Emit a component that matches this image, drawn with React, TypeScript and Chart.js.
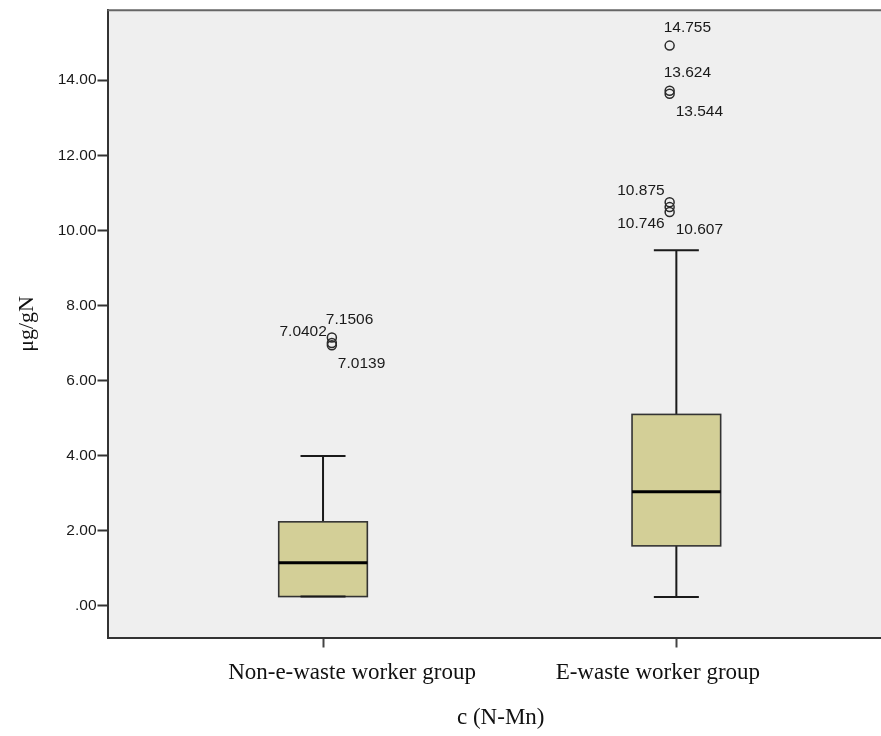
import React, { useEffect, useRef } from "react";
import { Chart, registerables } from "chart.js";

Chart.register(...registerables);

// ---- data ----
const categories = ["Non-e-waste worker group", "E-waste worker group"];
const whiskerLow = [0.25, 0.24];
const q1 = [0.25, 1.6];
const median = [1.15, 3.04];
const q3 = [2.24, 5.1];
const whiskerHigh = [3.99, 9.47];

const outlierGroup = [0, 0, 0, 1, 1, 1, 1, 1, 1];
const outlierJitter = [0.025, 0.025, 0.025, -0.019, -0.019, -0.019, -0.019, -0.019, -0.019];
const outlierValues = [7.15, 7.0, 6.94, 14.92, 13.72, 13.64, 10.75, 10.62, 10.49];
const outlierLabels = ["7.1506", "7.0402", "7.0139", "14.755", "13.624", "13.544", "10.875", "10.746", "10.607"];
const outlierPlacement = ["above", "upLeft", "below", "above", "above", "below", "upLeft", "downLeft", "below"];

const yTicks = [0, 2, 4, 6, 8, 10, 12, 14];
const yTitle = "μg/gN";
const xTitle = "c (N-Mn)";

const SANS = "'Liberation Sans', Arial, sans-serif";
const SERIF = "'Liberation Serif', 'Times New Roman', serif";

// horizontal shift (px) of each category label relative to its tick, as in the source
const labelShift = [29, -18.5];

const boxPlugin = {
  id: "boxPlot",
  beforeDraw(chart: any) {
    const { ctx, chartArea: a } = chart;
    ctx.save();
    ctx.fillStyle = "#efefef";
    ctx.fillRect(a.left, a.top, a.right - a.left, a.bottom - a.top);
    ctx.restore();
  },
  beforeDatasetsDraw(chart: any) {
    const { ctx } = chart;
    const xs = chart.scales.x;
    const ys = chart.scales.y;
    const half = 0.1254;
    const capHalf = 0.0637;
    ctx.save();
    categories.forEach((_, i) => {
      const xc = xs.getPixelForValue(i);
      const xl = xs.getPixelForValue(i - half);
      const xr = xs.getPixelForValue(i + half);
      const cl = xs.getPixelForValue(i - capHalf);
      const cr = xs.getPixelForValue(i + capHalf);
      const yq1 = ys.getPixelForValue(q1[i]);
      const yq3 = ys.getPixelForValue(q3[i]);
      const ymed = ys.getPixelForValue(median[i]);
      const ylo = ys.getPixelForValue(whiskerLow[i]);
      const yhi = ys.getPixelForValue(whiskerHigh[i]);
      // whiskers
      ctx.strokeStyle = "#1a1a1a";
      ctx.lineWidth = 2;
      ctx.beginPath();
      ctx.moveTo(xc, yq3);
      ctx.lineTo(xc, yhi);
      ctx.moveTo(cl, yhi);
      ctx.lineTo(cr, yhi);
      ctx.moveTo(xc, yq1);
      ctx.lineTo(xc, ylo);
      ctx.stroke();
      // box
      ctx.fillStyle = "#d3cf97";
      ctx.fillRect(xl, yq3, xr - xl, yq1 - yq3);
      ctx.strokeStyle = "#333";
      ctx.lineWidth = 1.6;
      ctx.strokeRect(xl, yq3, xr - xl, yq1 - yq3);
      // lower cap
      ctx.strokeStyle = "#1a1a1a";
      ctx.lineWidth = 2;
      ctx.beginPath();
      ctx.moveTo(cl, ylo);
      ctx.lineTo(cr, ylo);
      ctx.stroke();
      // median
      ctx.strokeStyle = "#000";
      ctx.lineWidth = 3;
      ctx.beginPath();
      ctx.moveTo(xl, ymed);
      ctx.lineTo(xr, ymed);
      ctx.stroke();
    });
    ctx.restore();
  },
  afterDatasetsDraw(chart: any) {
    const { ctx, chartArea: a } = chart;
    const xs = chart.scales.x;
    const ys = chart.scales.y;
    ctx.save();
    // top frame line
    ctx.strokeStyle = "#666";
    ctx.lineWidth = 2;
    ctx.beginPath();
    ctx.moveTo(a.left, a.top);
    ctx.lineTo(a.right, a.top);
    ctx.stroke();
    // outlier labels
    ctx.fillStyle = "#1a1a1a";
    ctx.font = "15.5px " + SANS;
    ctx.textBaseline = "middle";
    outlierValues.forEach((v, k) => {
      const px = xs.getPixelForValue(outlierGroup[k] + outlierJitter[k]);
      const py = ys.getPixelForValue(v);
      const p = outlierPlacement[k];
      let tx = px, ty = py;
      if (p === "above") { ctx.textAlign = "left"; tx = px - 6; ty = py - 18; }
      else if (p === "below") { ctx.textAlign = "left"; tx = px + 6; ty = py + 18; }
      else if (p === "upLeft") { ctx.textAlign = "right"; tx = px - 5; ty = py - 11; }
      else { ctx.textAlign = "right"; tx = px - 5; ty = py + 17; }
      ctx.fillText(outlierLabels[k], tx, ty);
    });
    // category labels
    ctx.fillStyle = "#111";
    ctx.font = "23px " + SERIF;
    ctx.textAlign = "center";
    ctx.textBaseline = "middle";
    categories.forEach((c, i) => {
      ctx.fillText(c, xs.getPixelForValue(i) + labelShift[i], a.bottom + 35);
    });
    ctx.restore();
  },
};

export default function App() {
  const ref = useRef<HTMLCanvasElement | null>(null);
  useEffect(() => {
    document.body.style.margin = "0";
    const canvas = ref.current;
    if (!canvas) return;
    const points = outlierValues.map((v, k) => ({ x: outlierGroup[k] + outlierJitter[k], y: v }));
    const chart = new Chart(canvas, {
      type: "scatter",
      data: {
        datasets: [
          {
            label: "outliers",
            data: points,
            pointStyle: "circle",
            pointRadius: 4.5,
            pointHoverRadius: 4.5,
            pointBorderWidth: 1.5,
            borderColor: "#2a2a2a",
            backgroundColor: "rgba(0,0,0,0)",
          },
        ],
      },
      options: {
        responsive: false,
        animation: false,
        devicePixelRatio: 1,
        events: [],
        layout: { padding: { top: 9.5, right: 0, left: 0, bottom: 0 } },
        plugins: { legend: { display: false }, tooltip: { enabled: false }, title: { display: false } },
        scales: {
          x: {
            type: "linear",
            position: "bottom",
            min: -0.61,
            max: 1.616,
            afterBuildTicks: (s: any) => {
              s.ticks = categories.map((_, i) => ({ value: i }));
            },
            afterFit: (s: any) => {
              s.height = 98.5;
            },
            ticks: {
              display: false,
              autoSkip: false,
              maxRotation: 0,
            },
            grid: { drawOnChartArea: false, drawTicks: true, tickLength: 10, tickColor: "#444", tickWidth: 2 },
            border: { display: true, color: "#333", width: 2 },
            title: {
              display: true,
              text: xTitle,
              color: "#111",
              font: { family: SERIF, size: 23 },
              padding: { top: 0, bottom: 4 },
            },
          },
          y: {
            type: "linear",
            position: "left",
            min: -0.84,
            max: 15.86,
            afterBuildTicks: (s: any) => {
              s.ticks = yTicks.map((v) => ({ value: v }));
            },
            afterFit: (s: any) => {
              s.width = 107.5;
            },
            ticks: {
              callback: (v: any) => (v === 0 ? ".00" : Number(v).toFixed(2)),
              padding: 1,
              color: "#1a1a1a",
              font: { family: SANS, size: 15.5 },
            },
            grid: { drawOnChartArea: false, drawTicks: true, tickLength: 10, tickColor: "#333", tickWidth: 2 },
            border: { display: true, color: "#333", width: 2 },
            title: {
              display: true,
              text: yTitle,
              color: "#111",
              font: { family: SERIF, size: 22 },
              padding: { top: 14, bottom: 0 },
            },
          },
        },
      },
      plugins: [boxPlugin],
    });
    return () => chart.destroy();
  }, []);
  return (
    <div style={{ width: 881, height: 736, overflow: "hidden" }}>
      <canvas ref={ref} width={900} height={736} style={{ display: "block" }} />
    </div>
  );
}
